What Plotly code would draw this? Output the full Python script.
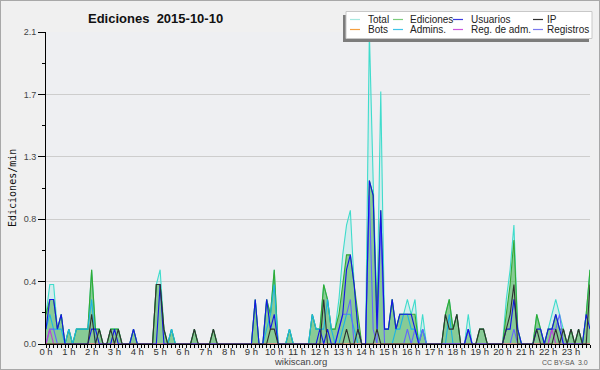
import plotly.graph_objects as go

# ---------------- data (edits per minute, 10-minute bins, 0h .. 23h50) ----------------
HOURS = list(range(24))
HOUR_LABELS = [f"{h} h" for h in HOURS]
Y_TICKS = [0, 0.42, 0.84, 1.26, 1.68, 2.1]
Y_TICK_LABELS = ["0.0", "0.4", "0.8", "1.3", "1.7", "2.1"]

total = [
    .2, .4, .4, .1, .2, 0,   .1, 0, .1, .1, .1, .1,   .5, .1, .1, 0, 0, .1,   .1, .1, 0, 0, 0, .1,
    0, 0, 0, 0, 0, .4,       .5, .1, 0, .1, 0, 0,     0, 0, 0, .1, 0, 0,      0, 0, .1, 0, 0, 0,
    0, 0, 0, 0, 0, 0,        0, .3, 0, 0, .3, .2,     .5, 0, 0, 0, .1, 0,     0, 0, 0, 0, .2, .1,
    .1, .4, .3, .1, .1, .3,  .6, .8, .9, .4, .1, 0,   0, 2.1, 1.1, .2, 1.7, .1, .1, .3, .1, .2, .2, .3,
    .2, .3, 0, .2, 0, 0,     0, 0, 0, .2, .3, .1,     .2, 0, 0, .2, 0, 0,     .1, .1, 0, 0, 0, 0,
    0, .3, .5, .8, .1, 0,    0, 0, 0, .2, .1, 0,      .1, .2, .3, .2, .1, 0,  .1, 0, .1, 0, .2, .5,
]
ediciones = [
    .2, .3, .3, .1, .2, 0,   .1, 0, .1, .1, .1, .1,   .5, .1, .1, 0, 0, .1,   .1, .1, 0, 0, 0, .1,
    0, 0, 0, 0, 0, .4,       .4, .1, 0, .1, 0, 0,     0, 0, 0, .1, 0, 0,      0, 0, .1, 0, 0, 0,
    0, 0, 0, 0, 0, 0,        0, .3, 0, 0, .3, .2,     .5, 0, 0, 0, .1, 0,     0, 0, 0, 0, .2, .1,
    .1, .4, .3, .1, .1, .2,  .4, .6, .6, .4, .2, 0,   0, 1.1, 1.0, .2, .9, .1, .1, .3, .1, .2, .2, .2,
    .2, .2, 0, .1, 0, 0,     0, 0, 0, .2, .3, .1,     .2, 0, 0, .1, 0, 0,     .1, .1, 0, 0, 0, 0,
    0, .2, .4, .7, .1, 0,    0, 0, 0, .2, .1, 0,      .1, .1, .2, .1, .1, 0,  .1, 0, .1, 0, .2, .5,
]
usuarios = [
    .1, .3, .3, .1, .2, 0,   0, 0, 0, 0, 0, 0,        .1, .1, 0, 0, 0, 0,     .1, 0, 0, 0, 0, .1,
    0, 0, 0, 0, 0, 0,        .4, 0, 0, 0, 0, 0,       0, 0, 0, 0, 0, 0,       0, 0, 0, 0, 0, 0,
    0, 0, 0, 0, 0, 0,        0, .3, 0, 0, .3, .1,     .2, 0, 0, 0, 0, 0,      0, 0, 0, 0, 0, 0,
    .1, 0, .1, 0, 0, .1,     .2, .5, .6, .4, .1, 0,   0, 1.1, 1.0, .1, .9, .1, .1, .3, .1, .2, .2, .2,
    .2, .1, 0, 0, 0, 0,      0, 0, 0, 0, 0, 0,        0, 0, 0, .1, 0, 0,      0, 0, 0, 0, 0, 0,
    0, .1, .1, .3, .1, 0,    0, 0, 0, .1, .1, 0,      .1, .1, .2, .1, 0, 0,   0, 0, 0, 0, .2, .1,
]
ip = [
    0, 0, 0, 0, 0, 0,        0, 0, 0, 0, 0, 0,        .2, 0, .1, 0, 0, .1,    0, .1, 0, 0, 0, 0,
    0, 0, 0, 0, 0, .4,       .4, .1, 0, 0, 0, 0,      0, 0, 0, .1, 0, 0,      0, 0, .1, 0, 0, 0,
    0, 0, 0, 0, 0, 0,        0, 0, 0, 0, 0, .1,       .1, 0, 0, 0, 0, 0,      0, 0, 0, 0, 0, 0,
    0, .3, 0, 0, 0, 0,       0, .1, 0, 0, .1, 0,      0, 0, 0, .1, 0, 0,      0, 0, 0, 0, 0, 0,
    0, 0, 0, 0, 0, 0,        0, 0, 0, .2, .1, .1,     .2, 0, 0, 0, 0, 0,      .1, .1, 0, 0, 0, 0,
    0, .1, .2, .4, 0, 0,     0, 0, 0, .1, 0, 0,       0, 0, .1, 0, .1, 0,     .1, 0, .1, 0, 0, .4,
]
admins = [
    .1, .2, .1, .1, .1, 0,   .1, 0, .1, .1, .1, .1,   .3, 0, 0, 0, 0, 0,      0, 0, 0, 0, 0, 0,
    0, 0, 0, 0, 0, 0,        0, 0, 0, .1, 0, 0,       0, 0, 0, 0, 0, 0,       0, 0, 0, 0, 0, 0,
    0, 0, 0, 0, 0, 0,        0, 0, 0, 0, .1, .2,      .4, 0, 0, 0, .1, 0,     0, 0, 0, 0, .2, .1,
    .1, .1, .3, .1, 0, 0,    .1, .2, .2, .1, 0, 0,    0, 0, 0, 0, 0, 0,       0, 0, .1, .1, .2, .2,
    .1, .1, 0, .1, 0, 0,     0, 0, 0, 0, .2, 0,       0, 0, 0, 0, 0, 0,       0, 0, 0, 0, 0, 0,
    0, 0, 0, 0, 0, 0,        0, 0, 0, 0, 0, 0,        0, 0, 0, 0, 0, 0,       0, 0, 0, 0, 0, 0,
]
registros = [
    0, .1, .1, 0, 0, 0,      0, 0, 0, 0, 0, 0,        0, 0, 0, 0, 0, 0,       0, 0, 0, 0, 0, 0,
    0, 0, 0, 0, 0, 0,        0, 0, 0, 0, 0, 0,        0, 0, 0, 0, 0, 0,       0, 0, 0, 0, 0, 0,
    0, 0, 0, 0, 0, 0,        0, 0, 0, 0, 0, 0,        0, 0, 0, 0, 0, 0,       0, 0, 0, 0, 0, 0,
    0, 0, 0, 0, 0, .1,       .2, .2, .3, 0, 0, 0,     0, 1.0, .1, 0, .8, 0,   0, 0, 0, 0, 0, .1,
    0, .1, 0, .1, 0, 0,      0, 0, 0, 0, 0, 0,        0, 0, 0, .1, 0, 0,      0, 0, 0, 0, 0, 0,
    0, 0, 0, .1, 0, 0,       0, 0, 0, 0, 0, 0,        0, .1, .1, .2, 0, 0,    0, 0, 0, 0, 0, 0,
]
reg_adm = [0.0] * 144
reg_adm[1] = .1
reg_adm[133] = .1
bots = [0.0] * 144

SERIES = [
    # name, values, colour
    ("Total", total, "#3fdccc"),
    ("Ediciones", ediciones, "#33aa33"),
    ("Admins.", admins, "#1cb4e4"),
    ("Registros", registros, "#6464ff"),
    ("Reg. de adm.", reg_adm, "#c040d0"),
    ("Bots", bots, "#ff9933"),
    ("Usuarios", usuarios, "#1414e6"),
    ("IP", ip, "#303030"),
]
LEGEND_ORDER = [["Total", "Ediciones", "Usuarios", "IP"],
                ["Bots", "Admins.", "Reg. de adm.", "Registros"]]
LEGEND_COLORS = {"Total": "#a6e8e0", "Ediciones": "#7ccc7c", "Usuarios": "#3a3ae0",
                 "IP": "#303030", "Bots": "#f5a040", "Admins.": "#40c4e8",
                 "Reg. de adm.": "#cc55dd", "Registros": "#7a7aee"}

# ---------------- figure ----------------
W, H = 600, 370
L, R, T, B = 46, 10, 32, 26
PW, PH = W - L - R, H - T - B


def px_x(px):
    return (px - L) / PW


def px_y(py):
    return (H - B - py) / PH


x = [i / 6 for i in range(len(total))]

fig = go.Figure()
for name, vals, col in SERIES:
    kw = {}
    if name == "Total":
        kw = dict(fill="tozeroy", fillcolor="rgba(64,224,208,0.15)")
    elif name == "Ediciones":
        kw = dict(fill="tozeroy", fillcolor="rgba(45,165,45,0.45)")
    fig.add_trace(go.Scatter(x=x, y=vals, name=name, mode="lines",
                             line=dict(color=col, width=1.1), showlegend=False,
                             hoverinfo="skip", **kw))

FONT = "Liberation Sans, Arial, sans-serif"

fig.update_layout(
    width=W, height=H,
    margin=dict(l=L, r=R, t=T, b=B, pad=0),
    paper_bgcolor="#f0f0f0",
    plot_bgcolor="#eeeff2",
    font=dict(family=FONT, size=10, color="#333"),
    showlegend=False,
    xaxis=dict(
        range=[0, 143 / 6], tickmode="array", tickvals=HOURS, ticktext=HOUR_LABELS,
        ticks="outside", ticklen=3, tickwidth=1, tickcolor="black",
        showline=True, linecolor="black", linewidth=1,
        showgrid=False, zeroline=False,
        tickfont=dict(size=9.5, color="#333", family=FONT),
        ticklabelstandoff=-4,
        minor=dict(dtick=1 / 6, tick0=0, ticks="outside", ticklen=3, tickwidth=1,
                   tickcolor="black", showgrid=False),
    ),
    yaxis=dict(
        range=[0, 2.1], tickmode="array", tickvals=Y_TICKS, ticktext=Y_TICK_LABELS,
        ticks="outside", ticklen=7, tickwidth=1, tickcolor="black",
        showline=True, linecolor="black", linewidth=1,
        showgrid=True, gridcolor="#cdcdcd", gridwidth=1, zeroline=False,
        tickfont=dict(size=9, color="#444", family=FONT),
        minor=dict(tickvals=[0.21, 0.63, 1.05, 1.47, 1.89], ticks="outside", ticklen=3,
                   tickwidth=1, tickcolor="black", showgrid=False),
    ),
)

shapes = []
annotations = []

# outer border
shapes.append(dict(type="rect", xref="paper", yref="paper",
                   x0=px_x(0), x1=px_x(W), y0=px_y(H), y1=px_y(0),
                   line=dict(color="#a8a8a8", width=2), fillcolor="rgba(0,0,0,0)", layer="above"))

# legend box with shadow
shapes.append(dict(type="rect", xref="paper", yref="paper",
                   x0=px_x(343), x1=px_x(589), y0=px_y(42), y1=px_y(15),
                   line=dict(width=0), fillcolor="#7c7c7c", layer="above"))
shapes.append(dict(type="rect", xref="paper", yref="paper",
                   x0=px_x(346), x1=px_x(592), y0=px_y(38.5), y1=px_y(11.5),
                   line=dict(color="#c8c8c8", width=1), fillcolor="#ffffff", layer="above"))
col_line_x = [350, 393, 453, 533]
col_text_x = [366, 408, 468.5, 545]
row_y = [19.5, 29.5]
for r, row in enumerate(LEGEND_ORDER):
    for c, name in enumerate(row):
        shapes.append(dict(type="line", xref="paper", yref="paper",
                           x0=px_x(col_line_x[c]), x1=px_x(col_line_x[c] + 10),
                           y0=px_y(row_y[r]), y1=px_y(row_y[r]),
                           line=dict(color=LEGEND_COLORS[name], width=1.2), layer="above"))
        annotations.append(dict(text=name, xref="paper", yref="paper",
                                x=px_x(col_text_x[c]), y=px_y(row_y[r]),
                                xanchor="left", yanchor="middle", showarrow=False,
                                font=dict(family=FONT, size=10, color="#222")))

# title
annotations.append(dict(text="<b>Ediciones  2015-10-10</b>", xref="paper", yref="paper",
                        x=px_x(85.5), y=px_y(18.5), xanchor="left", yanchor="middle",
                        showarrow=False, font=dict(family=FONT, size=13, color="#111")))
# y axis title
annotations.append(dict(text="Ediciones/min", xref="paper", yref="paper",
                        x=px_x(12), y=0.5, xanchor="center", yanchor="middle",
                        textangle=-90, showarrow=False,
                        font=dict(family="DejaVu Sans Mono, monospace", size=10, color="#111")))
# footer
annotations.append(dict(text="wikiscan.org", xref="paper", yref="paper",
                        x=px_x(300), y=px_y(361.5), xanchor="center", yanchor="middle",
                        showarrow=False, font=dict(family=FONT, size=9.5, color="#444")))
annotations.append(dict(text="CC BY-SA  3.0", xref="paper", yref="paper",
                        x=px_x(590), y=px_y(362.5), xanchor="right", yanchor="middle",
                        showarrow=False, font=dict(family=FONT, size=7, color="#555")))

fig.update_layout(shapes=shapes, annotations=annotations)
fig.write_html("out.html", config={"displayModeBar": False},
               post_script="document.body.style.margin='0';document.body.style.padding='0';")
